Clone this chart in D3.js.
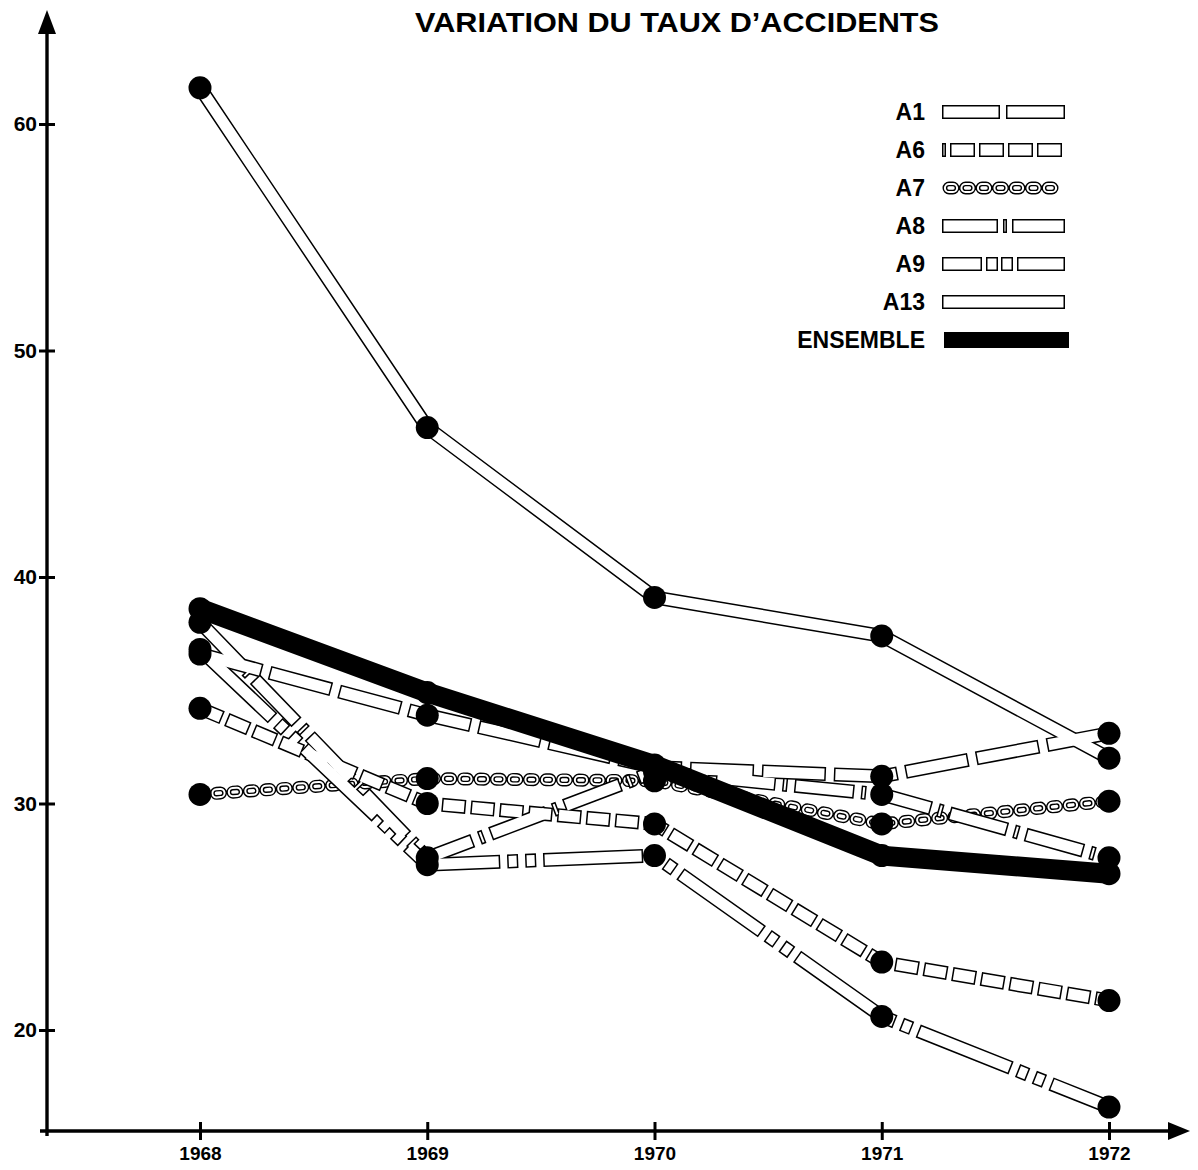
<!DOCTYPE html>
<html><head><meta charset="utf-8">
<script src="https://cdn.jsdelivr.net/npm/d3@7"></script>
<style>body{margin:0;background:#fff}svg{display:block}</style>
</head><body>
<svg id="c" width="1198" height="1170"></svg>
<script>
// ---------- data ----------
const years = [1968, 1969, 1970, 1971, 1972];
const yTicks = [20, 30, 40, 50, 60];
const title = "VARIATION DU TAUX D’ACCIDENTS";
const seriesNames = ["A1", "A6", "A7", "A8", "A9", "A13", "ENSEMBLE"];
const A1 = [36.6, 33.9, 31.6, 31.2, 33.1];
const A6 = [34.2, 30.0, 29.1, 23.0, 21.3];
const A7 = [30.4, 31.1, 31.0, 29.1, 30.1];
const A8 = [38.0, 27.6, 31.4, 30.4, 27.6];
const A9 = [36.8, 27.3, 27.7, 20.6, 16.6];
const A13 = [61.6, 46.6, 39.1, 37.4, 32.0];
const ENSEMBLE = [38.6, 34.9, 31.7, 27.7, 26.9];
const values = { A1, A6, A7, A8, A9, A13, ENSEMBLE };

// ---------- styles ----------
const styles = {
  A1:  { kind: "band", dash: [64, 8],  legendDash: [58, 6, 59, 20] },
  A6:  { kind: "band", dash: [24, 5],  legendDash: [4, 4, 25, 4, 25, 4, 25, 4, 25, 20] },
  A7:  { kind: "chain" },
  A8:  { kind: "band", dash: [60, 7, 5, 7], legendDash: [56, 5, 4, 5, 53, 20] },
  A9:  { kind: "band", dash: [100, 7, 11, 7, 11, 7], legendDash: [40, 4, 12, 3, 12, 4, 48, 20] },
  A13: { kind: "band", dash: null, legendDash: [123, 20] },
  ENSEMBLE: { kind: "thick" }
};

const svg = d3.select("#c");
const x = d3.scaleLinear().domain([1968, 1972]).range([200, 1109]);
const y = d3.scaleLinear().domain([20, 60]).range([1030, 124]);
const xAxisY = 1131, yAxisX = 47;
const font = "'Liberation Sans', Arial, Helvetica, sans-serif";

// ---------- title ----------
svg.append("text").attr("x", 677).attr("y", 32).attr("text-anchor", "middle")
  .attr("font-family", font).attr("font-weight", "bold").attr("font-size", 28)
  .attr("textLength", 524).attr("lengthAdjust", "spacingAndGlyphs")
  .attr("fill", "#000").text(title);

// ---------- axes ----------
const yAxis = d3.axisLeft(y).tickValues(yTicks).tickSize(0).tickPadding(10).tickFormat(d3.format("d"));
const gy = svg.append("g").attr("transform", `translate(${yAxisX},0)`).call(yAxis);
gy.select(".domain").remove();
gy.selectAll(".tick text").attr("font-family", font).attr("font-weight", "bold")
  .attr("font-size", 21).attr("fill", "#000");
gy.selectAll(".tick").append("line").attr("x1", -8).attr("x2", 8)
  .attr("stroke", "#000").attr("stroke-width", 3);

const xAxis = d3.axisBottom(x).tickValues(years).tickSize(0).tickPadding(16).tickFormat(d3.format("d"));
const gx = svg.append("g").attr("transform", `translate(0,${xAxisY})`).call(xAxis);
gx.select(".domain").remove();
gx.selectAll(".tick text").attr("font-family", font).attr("font-weight", "bold")
  .attr("font-size", 19).attr("fill", "#000");
gx.selectAll(".tick").append("line").attr("y1", -9).attr("y2", 9)
  .attr("stroke", "#000").attr("stroke-width", 3);

// axis lines with arrows
svg.append("line").attr("x1", yAxisX).attr("x2", yAxisX).attr("y1", 1136).attr("y2", 26)
  .attr("stroke", "#000").attr("stroke-width", 3.4);
svg.append("path").attr("d", `M${yAxisX},10 L${yAxisX - 9},34 L${yAxisX + 9},34 Z`).attr("fill", "#000");
svg.append("line").attr("x1", 40).attr("x2", 1172).attr("y1", xAxisY).attr("y2", xAxisY)
  .attr("stroke", "#000").attr("stroke-width", 3.4);
svg.append("path").attr("d", `M1190,${xAxisY} L1168,${xAxisY - 9} L1168,${xAxisY + 9} Z`).attr("fill", "#000");

// ---------- helpers ----------
const BW = 14, OL = 1.5;
function innerDash(p) {
  if (!p) return null;
  return p.map((v, i) => i % 2 === 0 ? Math.max(v - 2 * OL, 0.01) : v + 2 * OL);
}
const line = d3.line().x((d, i) => x(years[i])).y(d => y(d));

function drawBandBlack(g, d, dash) {
  g.append("path").attr("d", d).attr("fill", "none").attr("stroke", "#000")
    .attr("stroke-width", BW).attr("stroke-linejoin", dash ? "miter" : "round")
    .attr("stroke-dasharray", dash ? dash.join(" ") : null);
}
function drawBandWhite(g, d, dash) {
  g.append("path").attr("d", d).attr("fill", "none").attr("stroke", "#fff")
    .attr("stroke-width", BW - 2 * OL).attr("stroke-linejoin", dash ? "miter" : "round")
    .attr("stroke-dasharray", dash ? innerDash(dash).join(" ") : null)
    .attr("stroke-dashoffset", dash ? -OL : 0);
}
function drawChain(g, d) {
  g.append("path").attr("d", d).attr("fill", "none").attr("stroke", "#000")
    .attr("stroke-width", 13).attr("stroke-linecap", "round").attr("stroke-dasharray", "4 12.5");
  g.append("path").attr("d", d).attr("fill", "none").attr("stroke", "#fff")
    .attr("stroke-width", 10.2).attr("stroke-linecap", "round").attr("stroke-dasharray", "4 12.5");
  g.append("path").attr("d", d).attr("fill", "none").attr("stroke", "#000")
    .attr("stroke-width", 6.2).attr("stroke-linecap", "round").attr("stroke-dasharray", "4 12.5");
  g.append("path").attr("d", d).attr("fill", "none").attr("stroke", "#fff")
    .attr("stroke-width", 3.4).attr("stroke-linecap", "round").attr("stroke-dasharray", "4 12.5");
}

// ---------- series ----------
const plot = svg.append("g");
drawChain(plot.append("g"), line(values.A7));
const bandOrder = ["A6", "A1", "A13", "A9", "A8"];
const gBlack = plot.append("g"), gWhite = plot.append("g");
bandOrder.forEach(n => {
  const d = line(values[n]);
  drawBandBlack(gBlack, d, styles[n].dash);
  drawBandWhite(gWhite, d, styles[n].dash);
});
plot.append("path").attr("d", line(values.ENSEMBLE)).attr("fill", "none")
  .attr("stroke", "#000").attr("stroke-width", 20).attr("stroke-linejoin", "round");

// dots
seriesNames.forEach(n => {
  plot.append("g").selectAll("circle").data(values[n]).join("circle")
    .attr("cx", (d, i) => x(years[i])).attr("cy", d => y(d)).attr("r", 11.5).attr("fill", "#000");
});

// ---------- legend ----------
const ly = d3.scalePoint().domain(seriesNames).range([112, 340]);
const lx0 = 942, lx1 = 1065;
const lg = svg.append("g");
seriesNames.forEach(n => {
  const yy = ly(n);
  lg.append("text").attr("x", 925).attr("y", yy).attr("dy", "0.36em").attr("text-anchor", "end")
    .attr("font-family", font).attr("font-weight", "bold").attr("font-size", 23).attr("fill", "#000").text(n);
  const d = `M${lx0},${yy} L${lx1},${yy}`;
  const st = styles[n];
  if (st.kind === "band") {
    drawBandBlack(lg, d, st.legendDash);
    drawBandWhite(lg, d, st.legendDash);
  } else if (st.kind === "chain") {
    drawChain(lg, `M${lx0 + 7},${yy} L${lx1 - 5},${yy}`);
  } else {
    lg.append("rect").attr("x", lx0 + 2).attr("y", yy - 8).attr("width", lx1 - lx0 + 2).attr("height", 16).attr("fill", "#000");
  }
});
</script>
</body></html>
